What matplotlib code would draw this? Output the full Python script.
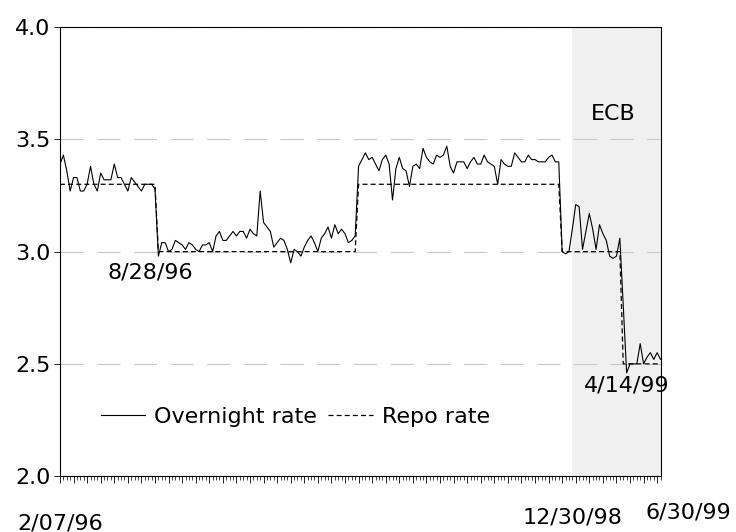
import numpy as np
import matplotlib
matplotlib.use('agg')
import matplotlib.pyplot as plt
from matplotlib.ticker import MultipleLocator, NullFormatter
import matplotlib.transforms as mtransforms

plt.rcParams['font.family'] = ['DejaVu Sans']

#####################################
# Data (weekly, 2/07/96 .. 6/30/99) #
#####################################

# overnight rate, one value per week
overnight = [
    # 2/07/96 .. 8/21/96
    3.39, 3.43, 3.36, 3.27, 3.33, 3.33, 3.27, 3.27, 3.30, 3.38,
    3.30, 3.27, 3.35, 3.32, 3.32, 3.32, 3.39, 3.33, 3.33, 3.30,
    3.27, 3.33, 3.31, 3.29, 3.27, 3.30, 3.30, 3.30, 3.28,
    # 8/28/96 ..
    2.98, 3.04, 3.04, 3.00, 3.01, 3.05, 3.04, 3.03, 3.01, 3.04,
    3.03, 3.01, 3.00, 3.03, 3.03, 3.04, 3.00, 3.07, 3.09, 3.05,
    3.05, 3.07, 3.09, 3.07, 3.09, 3.09, 3.06, 3.10, 3.08, 3.07,
    3.27,
    3.13, 3.11, 3.09, 3.02, 3.04, 3.06, 3.05, 3.01, 2.95, 3.01,
    3.00, 2.98, 3.02, 3.05, 3.07, 3.04, 3.00, 3.06, 3.08, 3.11,
    3.06, 3.12, 3.08, 3.10, 3.08, 3.04, 3.05, 3.07,
    # 10/15/97 ..
    3.38, 3.41, 3.44, 3.41, 3.42, 3.39, 3.36, 3.41, 3.43, 3.39,
    3.23, 3.37, 3.42, 3.37, 3.36, 3.29, 3.38, 3.39, 3.37, 3.46,
    3.42, 3.40, 3.39, 3.43, 3.42, 3.43, 3.47, 3.38, 3.35, 3.40,
    3.40, 3.40, 3.37, 3.40, 3.42, 3.39, 3.39, 3.43, 3.40, 3.39,
    3.38, 3.30, 3.41, 3.39, 3.38, 3.38, 3.44, 3.42, 3.40, 3.40,
    3.43, 3.41, 3.41, 3.40, 3.40, 3.40, 3.42, 3.43, 3.40, 3.40,
    # 12/09/98 ..
    3.00, 2.99, 3.00, 3.10, 3.21, 3.20, 3.01, 3.09, 3.17, 3.10,
    3.01, 3.12, 3.08, 3.05, 2.98, 2.97, 2.98, 3.06, 2.76, 2.46,
    2.50, 2.50, 2.50, 2.59, 2.50, 2.53, 2.55, 2.52, 2.55, 2.52,
]

# repo rate (step series)
repo = [3.30] * 29 + [3.00] * 59 + [3.30] * 60 + [3.00] * 18 + [2.50] * 12

weeks = np.arange(len(overnight))

date_labels = ['2/07/96', '12/30/98', '6/30/99']
date_label_weeks = [0, 151, 177]
ecb_start = 151        # 12/30/98
cut1_week = 29         # 8/28/96
cut2_week = 166        # 4/14/99

yticks = [2.0, 2.5, 3.0, 3.5, 4.0]
fs = 16

############
# Plotting #
############

fig = plt.figure(figsize=(7.36, 5.32), dpi=100)
ax = fig.add_axes([0.0815, 0.105, 0.816, 0.844])

ax.axvspan(ecb_start, weeks[-1], color='#f0f0f0', zorder=0, lw=0)

ax.plot(weeks, overnight, color='black', lw=0.8, label='Overnight rate', zorder=3)
ax.plot(weeks, repo, color='black', lw=0.9, linestyle=(0, (4, 2.5)),
        label='Repo rate', zorder=3)

ax.set_xlim(0, weeks[-1])
ax.set_ylim(2.0, 4.0)
ax.set_yticks(yticks)
ax.set_yticklabels(['%.1f' % v for v in yticks], fontsize=fs)
ax.yaxis.grid(True, color='#c8c8c8', linestyle=(0, (21, 12)), lw=0.8)
ax.set_axisbelow(True)

ax.xaxis.set_major_locator(MultipleLocator(4))
ax.xaxis.set_minor_locator(MultipleLocator(1))
ax.xaxis.set_major_formatter(NullFormatter())
ax.tick_params(axis='x', which='major', length=5, width=0.6, color='black')
ax.tick_params(axis='x', which='minor', length=3, width=0.5, color='black')
ax.tick_params(axis='y', which='major', length=4, width=0.6, pad=3)

for s in ax.spines.values():
    s.set_linewidth(0.8)

# date labels under the axis
trans = mtransforms.blended_transform_factory(ax.transData, ax.transAxes)
ax.text(date_label_weeks[0], -0.105, date_labels[0], transform=trans,
        ha='center', va='center', fontsize=fs, clip_on=False)
ax.text(date_label_weeks[1], -0.092, date_labels[1], transform=trans,
        ha='center', va='center', fontsize=fs, clip_on=False)
ax.annotate(date_labels[2], xy=(date_label_weeks[2], -0.082), xycoords=trans,
            xytext=(20, 0), textcoords='offset points',
            ha='center', va='center', fontsize=fs, annotation_clip=False)

ax.text(cut1_week - 2.5, 2.905, '8/28/96', ha='center', va='center', fontsize=fs)
ax.text(cut2_week + 1.0, 2.405, '4/14/99', ha='center', va='center', fontsize=fs)
ax.text(163, 3.615, 'ECB', ha='center', va='center', fontsize=fs)

ax.legend(loc='lower left', bbox_to_anchor=(0.035, 0.065), ncol=2, frameon=False,
          fontsize=fs, handlelength=2.0, columnspacing=0.5, handletextpad=0.4)

plt.savefig('out.png', dpi=100)
